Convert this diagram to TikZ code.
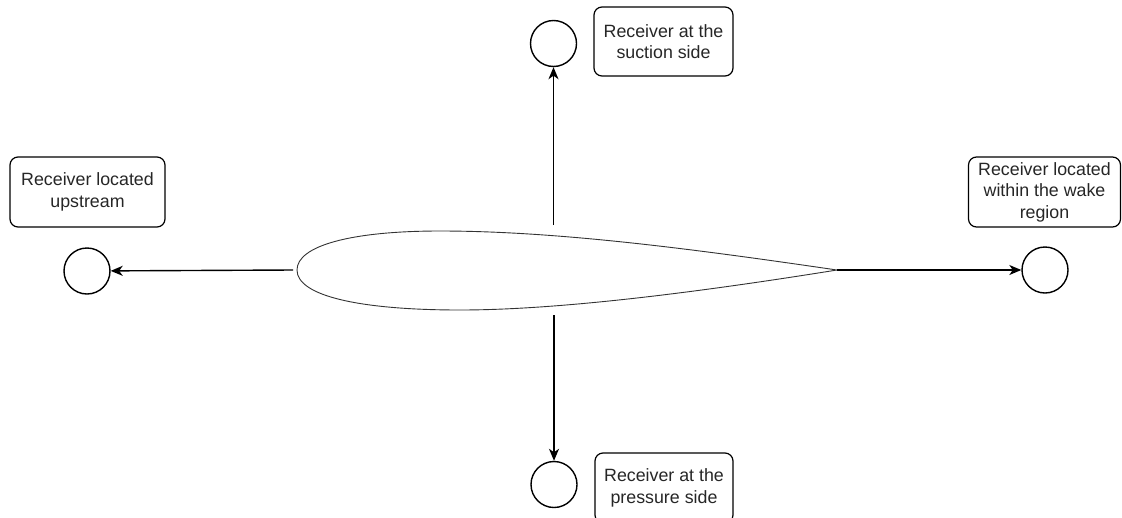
\documentclass[tikz,border=0pt]{standalone}
\usepackage{fontspec}
\setmainfont{Liberation Sans}
\usetikzlibrary{arrows.meta}
\begin{document}
\begin{tikzpicture}[x=1pt,y=-1pt,
  recv/.style={circle,draw=black,line width=1.4pt,minimum size=46pt,inner sep=0pt},
  label box/.style={draw=black,line width=1.2pt,rounded corners=8pt,align=center,inner sep=0pt,
     font=\fontsize{17.8}{21.5}\selectfont,text=black!85},
  arr/.style={line width=1.4pt,-{Stealth[length=12pt,width=10pt,inset=3.5pt]}}]
\useasboundingbox (0,0) rectangle (1122,517);
\begin{scope}
\clip (0,0) rectangle (1122,517);
% airfoil
\draw[line width=0.9pt,draw=black!80]
  (297,270) .. controls (297,246) and (350,231) .. (440,231)
  .. controls (560,231) and (700,250) .. (837,270)
  .. controls (700,292) and (560,310) .. (460,310)
  .. controls (360,310) and (297,296) .. (297,270);
\coordinate (le) at (293,270);
\coordinate (te) at (837,270);
\coordinate (top) at (553.5,225);
\coordinate (bot) at (554,315);
% receivers
\node[recv] (cup) at (87,271) {};
\node[recv] (csuc) at (553.5,43.5) {};
\node[recv] (cwake) at (1045,270) {};
\node[recv] (cpres) at (554,484.5) {};
% label boxes
\node[label box,minimum width=139pt,minimum height=69pt] (bsuc) at (663.5,41.5) {Receiver at the\\suction side};
\node[label box,minimum width=155pt,minimum height=70pt] (bup) at (87.5,192) {Receiver located\\upstream};
\node[label box,minimum width=152pt,minimum height=70pt] (bwake) at (1044.5,192) {Receiver located\\within the wake\\region};
\node[label box,minimum width=138pt,minimum height=70pt] (bpres) at (664,488) {Receiver at the\\pressure side};
% arrows
\draw[arr] (le) -- (cup);
\draw[arr] (te) -- (cwake);
\draw[arr] (top) -- (csuc);
\draw[arr] (bot) -- (cpres);
\end{scope}
\end{tikzpicture}
\end{document}
